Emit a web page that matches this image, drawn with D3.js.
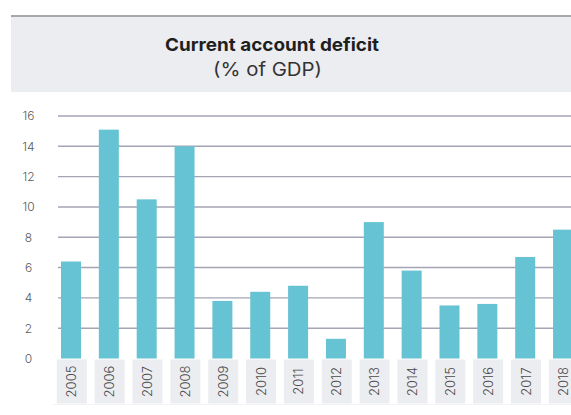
<!DOCTYPE html>
<html>
<head>
<meta charset="utf-8">
<script src="https://cdn.jsdelivr.net/npm/d3@7"></script>
<style>
  html, body { margin: 0; padding: 0; background: #ffffff; }
  svg { display: block; }
</style>
</head>
<body>
<svg id="chart" width="571" height="415"></svg>
<script>
// Current account deficit, % of GDP
const years = ["2005","2006","2007","2008","2009","2010","2011","2012","2013","2014","2015","2016","2017","2018"];
const deficit = [6.4, 15.1, 10.5, 14.0, 3.8, 4.4, 4.8, 1.3, 9.0, 5.8, 3.5, 3.6, 6.7, 8.5];
const yTicks = [0, 2, 4, 6, 8, 10, 12, 14, 16];
const titleText = "Current account deficit";
const subtitleText = "(% of GDP)";

const svg = d3.select("#chart");
const W = 571;
const FONT = "Inter, 'Noto Sans', sans-serif";

// Header band
svg.append("rect")
  .attr("x", 11).attr("y", 16.5)
  .attr("width", W - 11).attr("height", 75.5)
  .attr("fill", "#ecedf1");
svg.append("line")
  .attr("x1", 11).attr("x2", W)
  .attr("y1", 16).attr("y2", 16)
  .attr("stroke", "#8c8c8c").attr("stroke-width", 1.6);

const title = svg.append("text")
  .attr("x", 272).attr("y", 51)
  .attr("text-anchor", "middle")
  .attr("font-family", FONT)
  .attr("font-weight", 700)
  .attr("font-size", 18)
  .attr("fill", "#1f1f1f")
  .text(titleText);
const sub = svg.append("text")
  .attr("x", 267.5).attr("y", 75.5)
  .attr("text-anchor", "middle")
  .attr("font-family", FONT)
  .attr("font-weight", 400)
  .attr("font-size", 18.5)
  .attr("fill", "#333333")
  .text(subtitleText);
// fit header texts to their set widths
title.attr("textLength", 214).attr("lengthAdjust", "spacingAndGlyphs");
sub.attr("textLength", 109).attr("lengthAdjust", "spacingAndGlyphs");

// Scales
const y = d3.scaleLinear().domain([0, 16]).range([358.5, 116]);
const x = d3.scaleBand()
  .domain(years)
  .range([52.07, 581.97])
  .paddingInner(0.4716)
  .paddingOuter(0.2358);

// Gridlines (no line at zero)
svg.append("g")
  .selectAll("line")
  .data(yTicks.filter(d => d > 0))
  .join("line")
  .attr("x1", 58).attr("x2", W)
  .attr("y1", d => y(d)).attr("y2", d => y(d))
  .attr("stroke", "#a4a5b4")
  .attr("stroke-width", 1.4);

// Y axis labels
const yAxis = d3.axisLeft(y).tickValues(yTicks).tickSize(0).tickPadding(0);
const gy = svg.append("g").attr("transform", "translate(28.5,0)").call(yAxis);
gy.select(".domain").remove();
gy.selectAll("text")
  .attr("text-anchor", "middle")
  .attr("font-family", FONT)
  .attr("font-weight", 300)
  .attr("font-size", 12)
  .attr("fill", "#5a5a5a");

// Bars
svg.append("g")
  .selectAll("rect")
  .data(years.map((yr, i) => ({ yr, v: deficit[i] })))
  .join("rect")
  .attr("x", d => x(d.yr))
  .attr("y", d => y(d.v))
  .attr("width", x.bandwidth())
  .attr("height", d => y(0) - y(d.v))
  .attr("fill", "#66c3d3");

// Category label boxes
const boxW = 30;
const lab = svg.append("g")
  .selectAll("g")
  .data(years)
  .join("g")
  .attr("transform", d => `translate(${x(d) + x.bandwidth() / 2 + 0.8},0)`);
lab.append("rect")
  .attr("x", -boxW / 2).attr("y", 359.5)
  .attr("width", boxW).attr("height", 44)
  .attr("fill", "#ecedf1");
lab.append("text")
  .attr("transform", "translate(4.6,381.5) rotate(-90)")
  .attr("text-anchor", "middle")
  .attr("font-family", FONT)
  .attr("font-weight", 300)
  .attr("font-size", 13)
  .attr("fill", "#4a4a4a")
  .text(d => d);
svg.append("line")
  .attr("x1", 53).attr("x2", W)
  .attr("y1", 404.5).attr("y2", 404.5)
  .attr("stroke", "#f3f3f6").attr("stroke-width", 1);
</script>
</body>
</html>
